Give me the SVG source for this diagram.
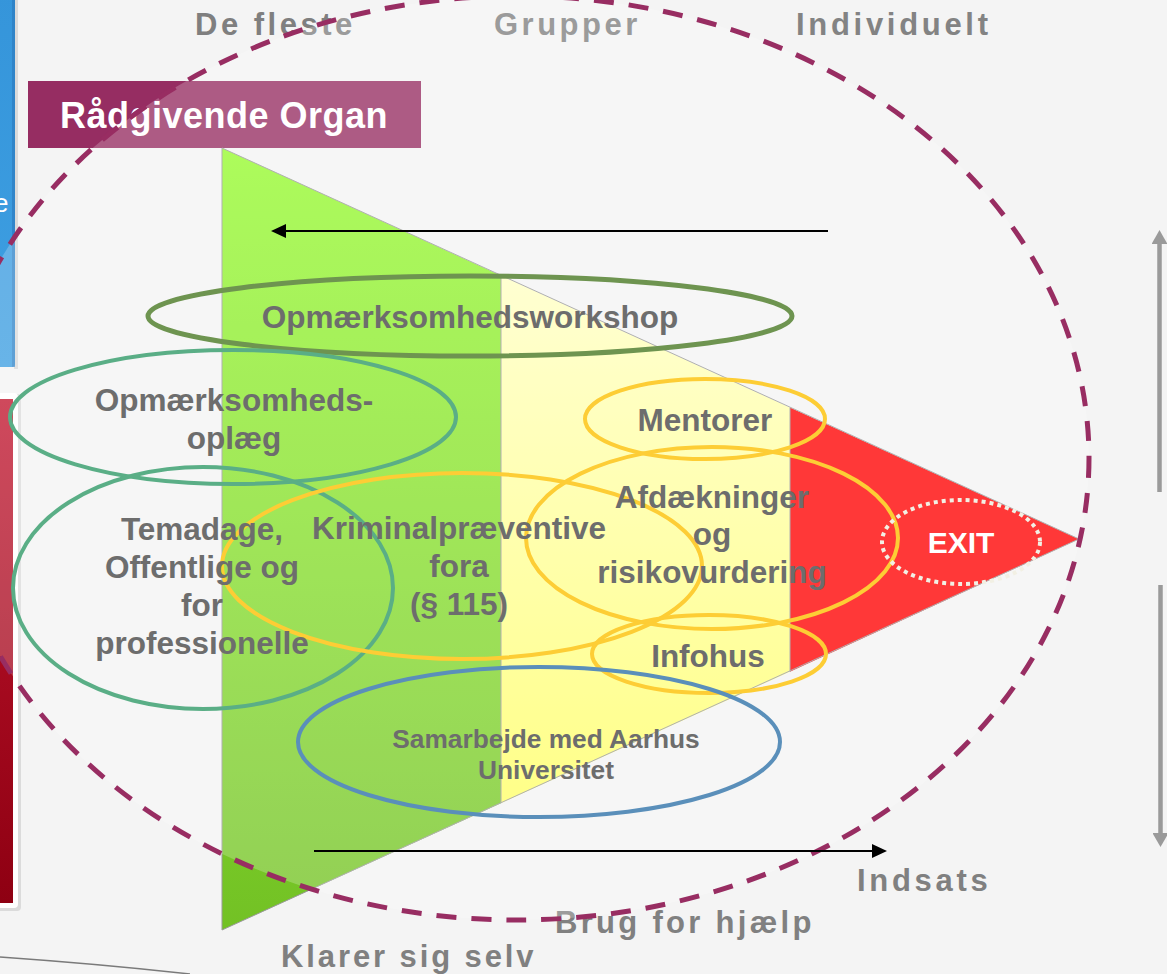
<svg xmlns="http://www.w3.org/2000/svg" width="1167" height="974" viewBox="0 0 1167 974">
  <defs>
    <style>
      .t{font-family:"Liberation Sans",Arial,Helvetica,sans-serif;font-weight:bold}
      .in{fill:#6d6d6d;font-size:31.5px;text-anchor:middle}
      .ax{fill:#7f7f7f;font-size:31px;letter-spacing:3.5px}
      .ax2{fill:#808080;font-size:31px}
      .ring{fill:none;stroke-width:4}
      .yel{stroke:#fdcd35}
      .teal{stroke:#5aae86}
      .edge{stroke:#9a9a9a;stroke-width:1;fill:none}
    </style>
    <linearGradient id="gGreen" gradientUnits="userSpaceOnUse" x1="0" y1="148" x2="0" y2="930">
      <stop offset="0" stop-color="#96fb2e"/>
      <stop offset="1" stop-color="#73c125"/>
    </linearGradient>
    <linearGradient id="gYellow" gradientUnits="userSpaceOnUse" x1="0" y1="270" x2="0" y2="810">
      <stop offset="0" stop-color="#ffffc6"/>
      <stop offset="1" stop-color="#ffff66"/>
    </linearGradient>
    <linearGradient id="gRed" x1="0" y1="0" x2="0" y2="1">
      <stop offset="0" stop-color="#c2162f"/>
      <stop offset="1" stop-color="#8e0012"/>
    </linearGradient>
    <linearGradient id="gBlue" x1="0" y1="0" x2="0" y2="1">
      <stop offset="0" stop-color="#3595da"/>
      <stop offset="1" stop-color="#3e9fe2"/>
    </linearGradient>
    <marker id="arrBlack" viewBox="0 0 15 14" refX="2" refY="7" markerWidth="15" markerHeight="14" markerUnits="userSpaceOnUse" orient="auto">
      <path d="M0,0 L15,7 L0,14 z" fill="#000"/>
    </marker>
    <marker id="arrGray" viewBox="0 0 14 16" refX="2" refY="8" markerWidth="14" markerHeight="16" markerUnits="userSpaceOnUse" orient="auto">
      <path d="M0,0 L14,8 L0,16 z" fill="#9a9a9a"/>
    </marker>
  </defs>

  <!-- background -->
  <rect x="0" y="0" width="1167" height="974" fill="#f4f4f4"/>

  <!-- side panels of slide -->
  <g id="bluePanel">
    <rect x="14" y="-10" width="4" height="379" fill="#c8c8c8" opacity="0.6"/>
    <rect x="-10" y="-10" width="25" height="377" rx="3" fill="url(#gBlue)"/>
    <rect x="12" y="-10" width="3" height="377" fill="#2c7cc0" opacity="0.7"/>
    <text class="t" x="-6" y="212" style="font-weight:normal;font-size:26px;fill:#ffffff">e</text>
  </g>
  <g id="redPanel">
    <rect x="-10" y="394" width="31" height="517" rx="4" fill="#d0d0d0" opacity="0.7"/>
    <rect x="-10" y="393" width="28" height="515" rx="4" fill="#ffffff"/>
    <rect x="-10" y="399" width="23" height="504" fill="url(#gRed)"/>
  </g>
  <path d="M0,957 Q100,964 190,974" fill="none" stroke="#7a7a7a" stroke-width="1.5"/>

  <!-- axis labels -->
  <g id="topLabels">
    <text class="t ax" x="195" y="35">De fleste</text>
    <text class="t ax" x="494" y="35">Grupper</text>
    <text class="t ax" x="796" y="35" style="letter-spacing:3.7px;fill:#838383">Individuelt</text>
  </g>
  <g id="bottomLabels">
    <text class="t ax2" x="281" y="967" style="letter-spacing:2.9px">Klarer sig selv</text>
    <text class="t ax2" x="555" y="933" style="letter-spacing:3.3px">Brug for hjælp</text>
    <text class="t ax2" x="857" y="891" style="letter-spacing:3.7px">Indsats</text>
  </g>

  <!-- Raadgivende Organ -->
  <g id="raadgivende">
    <rect x="28" y="81" width="393" height="67" fill="#962d62"/>
    <text class="t" x="60" y="128" style="font-size:36px;letter-spacing:0.5px;fill:#ffffff">Rådgivende Organ</text>
  </g>

  <!-- triangle -->
  <g id="triangle">
    <polygon points="222,148 501,275.5 501,803.2 222,930" fill="url(#gGreen)"/>
    <polygon points="501,275.5 790,407.5 790,671.8 501,803.2" fill="url(#gYellow)"/>
    <polygon points="790,407.5 1079,539 790,671.8" fill="#ff0000"/>
    <polygon points="222,148 1079,539 222,930" class="edge"/>
    <line x1="501" y1="275.5" x2="501" y2="803.2" class="edge"/>
    <line x1="790" y1="407.5" x2="790" y2="671.8" class="edge"/>
  </g>

  <!-- big dashed boundary with light veil -->
  <g id="boundary">
    <ellipse cx="517" cy="458" rx="572" ry="462" fill="#ffffff" fill-opacity="0.22" stroke="#982d62" stroke-width="5" stroke-dasharray="20 15"/>
  </g>

  <!-- connectors / arrows -->
  <g id="connectors">
    <line x1="828" y1="231" x2="284" y2="231" stroke="#000" stroke-width="2" marker-end="url(#arrBlack)"/>
    <line x1="314" y1="851" x2="874" y2="851" stroke="#000" stroke-width="2" marker-end="url(#arrBlack)"/>
    <line x1="1159.5" y1="492" x2="1159.5" y2="242" stroke="#9a9a9a" stroke-width="4.5" marker-end="url(#arrGray)"/>
    <line x1="1160.5" y1="585" x2="1160.5" y2="835" stroke="#9a9a9a" stroke-width="4.5" marker-end="url(#arrGray)"/>
  </g>

  <!-- activity nodes -->
  <g id="workshop">
    <ellipse cx="470" cy="316" rx="322" ry="40" fill="none" stroke="#6e9450" stroke-width="5"/>
    <text class="t in" x="470" y="328">Opmærksomhedsworkshop</text>
  </g>
  <g id="oplaeg">
    <ellipse cx="233" cy="417" rx="223" ry="67" class="ring teal"/>
    <text class="t in" x="234" y="411">Opmærksomheds-</text>
    <text class="t in" x="234" y="449">oplæg</text>
  </g>
  <g id="temadage">
    <ellipse cx="203" cy="588" rx="190" ry="121" class="ring teal"/>
  </g>
  <g id="kriminal">
    <ellipse cx="462" cy="566" rx="240" ry="93" class="ring yel"/>
  </g>
  <g id="mentorer">
    <ellipse cx="705" cy="419" rx="120" ry="40" class="ring yel"/>
    <text class="t in" x="705" y="431">Mentorer</text>
  </g>
  <g id="afdaekninger">
    <ellipse cx="712" cy="538" rx="186" ry="91" class="ring yel"/>
  </g>
  <g id="infohus">
    <ellipse cx="709" cy="654" rx="117" ry="39" class="ring yel"/>
    <text class="t in" x="708" y="667">Infohus</text>
  </g>
  <g id="samarbejde">
    <ellipse cx="539" cy="742" rx="241" ry="75" fill="none" stroke="#5a8fba" stroke-width="4"/>
    <text class="t in" x="546" y="748" style="font-size:26.3px">Samarbejde med Aarhus</text>
    <text class="t in" x="546" y="779" style="font-size:26.3px">Universitet</text>
  </g>
  <g id="exit">
    <ellipse cx="961" cy="542" rx="79" ry="42" fill="none" stroke="#f2f0e4" stroke-width="4" stroke-dasharray="4 4"/>
    <text class="t" x="961" y="553" style="font-size:30px;fill:#ffffff;text-anchor:middle">EXIT</text>
  </g>
  <g id="labels">
    <text class="t in" x="202" y="540">Temadage,</text>
    <text class="t in" x="202" y="578">Offentlige og</text>
    <text class="t in" x="202" y="616">for</text>
    <text class="t in" x="202" y="654">professionelle</text>
    <text class="t in" x="459" y="539">Kriminalpræventive</text>
    <text class="t in" x="459" y="577">fora</text>
    <text class="t in" x="459" y="615">(§ 115)</text>
    <text class="t in" x="712" y="508">Afdækninger</text>
    <text class="t in" x="712" y="545">og</text>
    <text class="t in" x="712" y="583">risikovurdering</text>
  </g>
</svg>
